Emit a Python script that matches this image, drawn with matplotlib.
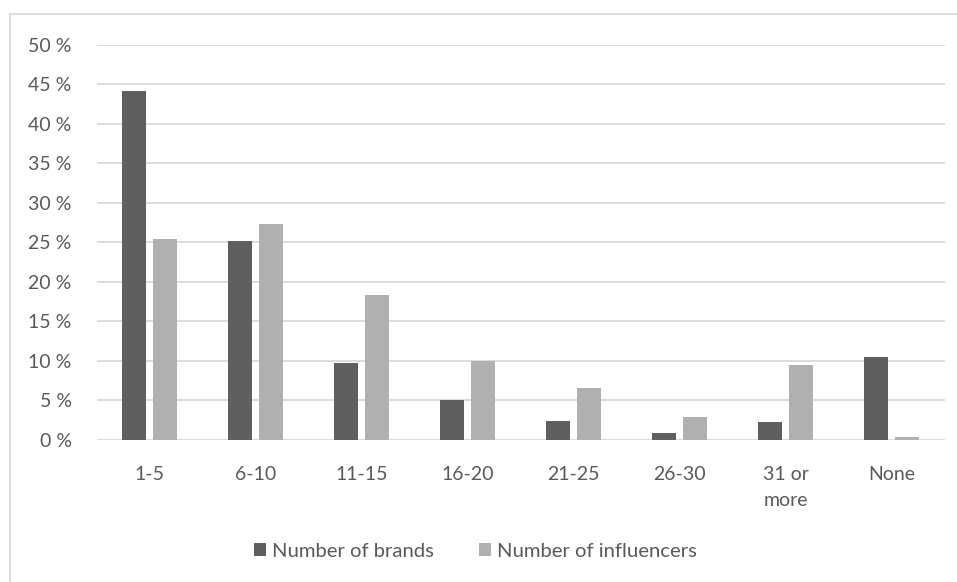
import numpy as np
import matplotlib.pyplot as plt
from matplotlib.lines import Line2D

# Datos
categorias = ["1-5", "6-10", "11-15", "16-20", "21-25", "26-30", "31 or\nmore", "None"]
marcas = [44.2, 25.2, 9.7, 5.0, 2.4, 0.9, 2.3, 10.5]
influencers = [25.4, 27.3, 18.3, 10.0, 6.6, 2.9, 9.5, 0.4]
ticks_y = [0, 5, 10, 15, 20, 25, 30, 35, 40, 45, 50]

gris_osc = "#5f5f5f"
gris_cla = "#b0b0b0"
texto = "#595959"

plt.rcParams['font.family'] = ['Lato', 'DejaVu Sans']

fig = plt.figure(figsize=(9.57, 5.82), dpi=100)
ax = fig.add_axes([0.101, 0.244, 0.886, 0.679])

x = np.arange(len(categorias))
ancho = 0.225
ax.bar(x - 0.145, marcas, ancho, color=gris_osc, label="Number of brands", zorder=3)
ax.bar(x + 0.145, influencers, ancho, color=gris_cla, label="Number of influencers", zorder=3)

ax.set_xlim(-0.5, len(categorias) - 0.5)
ax.set_ylim(0, 50)
ax.set_yticks(ticks_y)
ax.set_yticklabels(["%d %%" % t for t in ticks_y])
ax.set_xticks(x)
ax.set_xticklabels(categorias, linespacing=1.6)
ax.grid(axis='y', color="#d9d9d9", linewidth=1.3, zorder=0)
for s in ax.spines.values():
    s.set_visible(False)
ax.tick_params(length=0, labelsize=14, colors=texto)
ax.tick_params(axis='y', pad=18)
ax.tick_params(axis='x', pad=19)

# Marco exterior del gráfico
fig.add_artist(Line2D([0.0105, 1.0], [0.976, 0.976], color="#d9d9d9", lw=1.3))
fig.add_artist(Line2D([0.0105, 0.0105], [0.0, 0.976], color="#d9d9d9", lw=1.3))

fig.legend(loc='center', bbox_to_anchor=(0.497, 0.053), ncol=2, frameon=False,
           fontsize=14.6, labelcolor=texto, handlelength=0.6, handleheight=0.6,
           handletextpad=0.3, columnspacing=2.2)

fig.savefig("out.png", dpi=100)
